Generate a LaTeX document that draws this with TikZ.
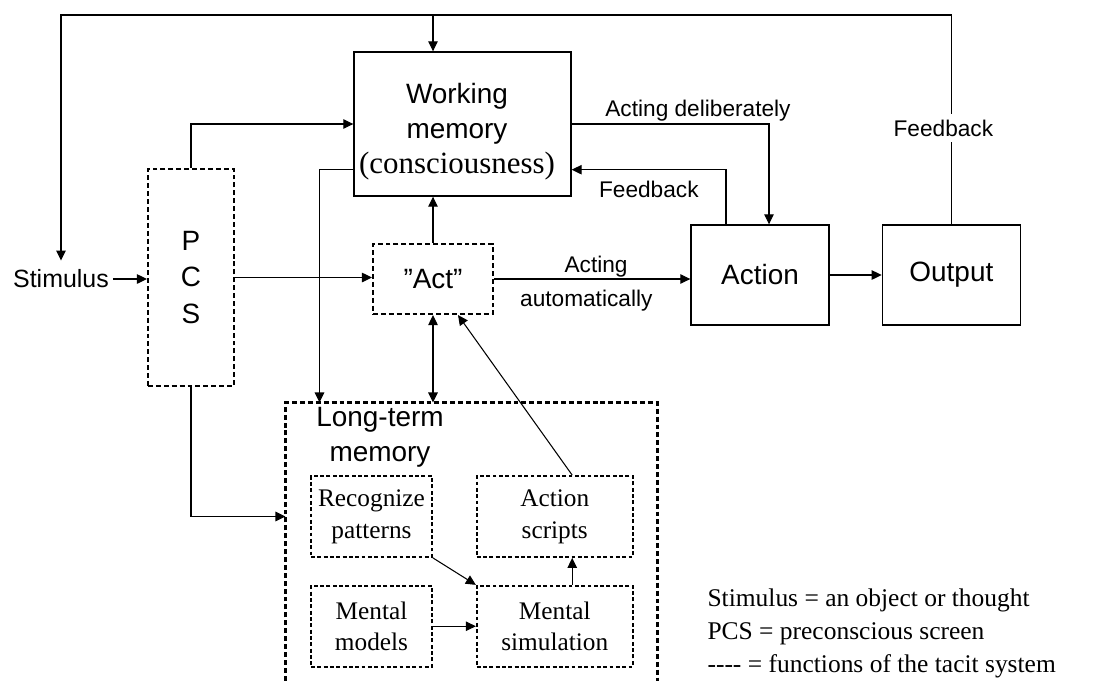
\documentclass[tikz,border=0pt]{standalone}
\usepackage{fontspec}
\setmainfont{Liberation Sans}
\newfontfamily\timesfont{Liberation Serif}
\usetikzlibrary{arrows.meta,positioning,calc}

\newcommand{\boxfont}{\fontsize{15.9pt}{20pt}\selectfont}
\newcommand{\labelfont}{\fontsize{12.9pt}{15pt}\selectfont}
\newcommand{\notefont}{\timesfont\fontsize{14.5pt}{19pt}\selectfont}

\begin{document}
\begin{tikzpicture}[x=0.02cm, y=-0.02cm, line width=0.6pt,
    >={Triangle[length=5.7pt,width=5.4pt]},
    block/.style={rectangle, draw, line width=0.8pt, inner sep=0pt, font=\boxfont},
    tacit/.style={rectangle, draw, line width=1.2pt, dash pattern=on 2.8pt off 1.7pt, inner sep=0pt, font=\boxfont},
    subtacit/.style={rectangle, draw, line width=1pt, dash pattern=on 2.2pt off 1.4pt, inner sep=0pt,
        minimum height=1.62cm, align=center, font=\timesfont\fontsize{14.4pt}{18pt}\selectfont},
    lbl/.style={font=\labelfont}]
    \useasboundingbox (0,0) rectangle (1098,680);

    % Main blocks
    \node[block, minimum width=4.34cm, minimum height=2.88cm] (wm) at (462.5,124) {};
    \node[font=\boxfont, align=center, inner sep=0pt] (wmtext) at (457,132)
        {Working\\memory\\{\timesfont\fontsize{17.6pt}{20pt}\selectfont (consciousness)}};
    \node[tacit, minimum width=1.72cm, minimum height=4.34cm, align=center,
        font=\fontsize{15.9pt}{21pt}\selectfont] (pcs) at (191,277.5) {P\\C\\S};
    \node[tacit, minimum width=2.4cm, minimum height=1.4cm] (act) at (433,279) {”Act”};
    \node[block, minimum width=2.76cm, minimum height=2cm] (action) at (760,275) {Action};
    \node[block, minimum width=2.76cm, minimum height=2cm, right=1.04cm of action] (output) {Output};
    \node[font=\fontsize{14.2pt}{16pt}\selectfont, inner xsep=2pt, inner ysep=5pt] (stimulus) at (61,279) {Stimulus};

    % Long-term memory (open at the bottom)
    \node[minimum width=7.42cm, minimum height=5.54cm, inner sep=0pt] (ltm) at (471.5,541.5) {};
    \draw[line width=1.2pt, dash pattern=on 2.8pt off 1.7pt] (ltm.south west) |- (ltm.north east) -- (ltm.south east);
    \node[font=\boxfont, align=center] (ltmlabel) at (380,437) {Long-term\\memory};
    \node[subtacit, minimum width=2.42cm] (recognize) at (371.5,516.5) {Recognize\\patterns};
    \node[subtacit, minimum width=2.42cm, below=0.54cm of recognize] (models) {Mental\\models};
    \node[subtacit, minimum width=3.12cm, right=0.86cm of models] (simulation) {Mental\\simulation};
    \node[subtacit, minimum width=3.12cm, above=0.54cm of simulation] (scripts) {Action\\scripts};

    % Legend
    \node[font=\notefont, align=left, anchor=north west, inner sep=0pt] (legend) at (707,588)
        {Stimulus = an object or thought\\PCS = preconscious screen\\-\kern0pt-\kern0pt-\kern0pt- = functions of the tacit system};

    % Outer feedback loop
    \coordinate (topline) at (0,15);
    \draw[->] (output.north) -- node[lbl, fill=white, pos=0.46, xshift=-0.16cm] (fbright) {Feedback}
        (output.north |- topline) -| (stimulus.north);
    \draw[->] (act.north |- topline) -- (act.north |- wm.north);

    \draw[->] (stimulus) -- (stimulus -| pcs.west);
    \draw[->] (pcs) -- (pcs -| act.west);
    \draw[->] (pcs.north) |- (wm.west);
    \draw[->] (pcs.south) |- (recognize -| ltm.west);
    \draw[->] ([yshift=0.54cm]wm.south west) -| ([xshift=0.68cm]ltm.north west);
    \draw[->] (act) -- (act |- wm.south);
    \draw[<->] (act) -- (act |- ltm.north);
    \draw[->] (wm) -| node[lbl, above, inner sep=1.5pt, pos=0.32] {Acting deliberately} ([xshift=0.18cm]action.north);
    \draw[->] ([xshift=-0.68cm]action.north) |- node[lbl, below=3pt, pos=0.75] {Feedback} ([yshift=0.54cm]wm.south east);
    \draw[->] (act) -- node[lbl, above, inner sep=0.5pt, pos=0.52] {Acting}
        node[lbl, below, inner sep=6pt, pos=0.47] {automatically} (act -| action.west);
    \draw[->] (action) -- (output);

    % Inside long-term memory
    \draw[->] ([xshift=0.35cm]scripts.north) -- ([xshift=0.5cm]act.south);
    \draw[->] (recognize.south east) -- (simulation.north west);
    \draw[->] (models) -- (simulation);
    \draw[->] ([xshift=0.35cm]simulation.north) -- ([xshift=0.35cm]scripts.south);
\end{tikzpicture}
\end{document}
